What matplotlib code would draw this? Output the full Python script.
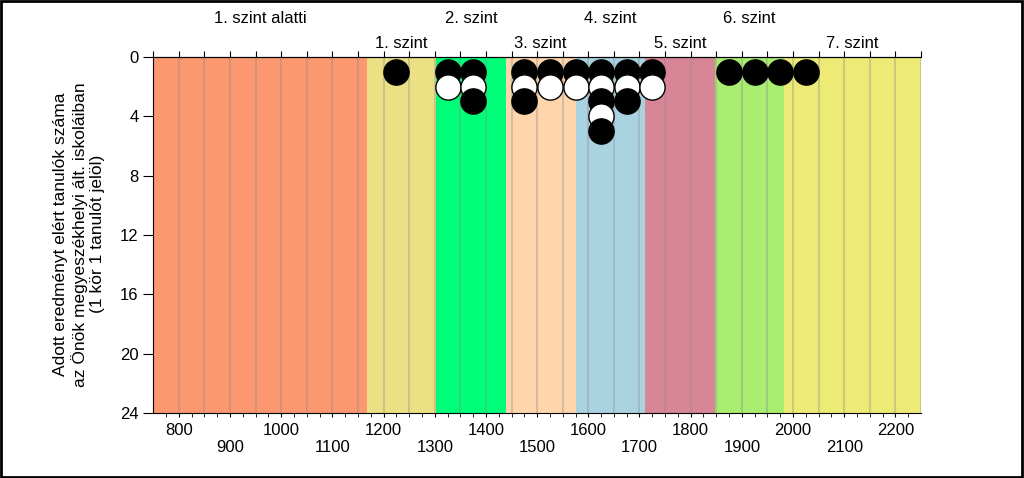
import matplotlib
matplotlib.use("Agg")
import matplotlib.pyplot as plt
from matplotlib.patches import Rectangle
import matplotlib.transforms as mtransforms

plt.rcParams["font.family"] = ["Liberation Sans", "DejaVu Sans"]

# level bands (score limits) and names
band_edges = [750, 1167, 1303, 1439, 1575, 1711, 1847, 1983, 2250]
band_names = ["1. szint alatti", "1. szint", "2. szint", "3. szint",
              "4. szint", "5. szint", "6. szint", "7. szint"]
band_colors = ["#FC9870", "#ECE084", "#00FF78", "#FFD5AC",
               "#AAD3E2", "#D98598", "#A9EE70", "#EDEB75"]

# students per score bin (one circle = one student)
bin_scores = [1225, 1325, 1375, 1475, 1525, 1575, 1625, 1675, 1725,
              1875, 1925, 1975, 2025]
bin_counts = [1, 2, 3, 3, 2, 2, 5, 3, 2, 1, 1, 1, 1]

bottom_ticks = list(range(800, 2201, 100))
y_ticks = [0, 4, 8, 12, 16, 20, 24]

fig = plt.figure(figsize=(10.24, 4.78), dpi=100)
ax = fig.add_axes([0.1497, 0.136, 0.7497, 0.7448])

for lo, hi, col in zip(band_edges[:-1], band_edges[1:], band_colors):
    ax.axvspan(lo, hi, color=col, lw=0, zorder=0)

for gx in range(750, 2251, 50):
    ax.axvline(gx, color="#8C8C8C", alpha=0.35, lw=1.5, zorder=1)

for score, n in zip(bin_scores, bin_counts):
    for k in range(1, n + 1):
        fc = "black" if k % 2 == 1 else "white"
        ax.scatter(score, k, s=330, facecolor=fc, edgecolor="black",
                   linewidth=1, zorder=3 + k, clip_on=False)

ax.set_xlim(750, 2250)
ax.set_ylim(24, 0)

ax.set_yticks(y_ticks)
ax.tick_params(axis="y", length=7, labelsize=12, direction="out")

ax.set_xticks(bottom_ticks)
ax.set_xticklabels([str(t) if i % 2 == 0 else "\n" + str(t)
                    for i, t in enumerate(bottom_ticks)])
ax.set_xticks(range(775, 2250, 25), minor=True)
ax.tick_params(axis="x", which="both", length=3, labelsize=12, pad=4,
               direction="out")

for side in ["top", "left", "bottom"]:
    ax.spines[side].set_color("black")
ax.spines["right"].set_visible(False)

top = ax.twiny()
top.set_xlim(750, 2250)
top.set_xticks(range(750, 2251, 50))
top.tick_params(axis="x", length=4, labeltop=False)
top.spines["right"].set_visible(False)
top.spines["left"].set_visible(False)
top.spines["bottom"].set_visible(False)

trans = mtransforms.blended_transform_factory(ax.transData, fig.transFigure)
for i, (lo, hi, name) in enumerate(zip(band_edges[:-1], band_edges[1:], band_names)):
    yy = 0.962 if i % 2 == 0 else 0.910
    ax.text((lo + hi) / 2, yy, name, transform=trans, ha="center",
            va="center", fontsize=12)

fig.text(0.077, 0.51,
         "Adott eredményt elért tanulók száma\n"
         "az Önök megyeszékhelyi ált. iskoláiban\n"
         "(1 kör 1 tanulót jelöl)",
         rotation=90, ha="center", va="center", multialignment="center",
         fontsize=12.5)

fig.patches.append(Rectangle((0.001, 0.002), 0.997, 0.995, fill=False,
                             edgecolor="black", lw=2,
                             transform=fig.transFigure, figure=fig))

fig.savefig("out.png", dpi=100)
